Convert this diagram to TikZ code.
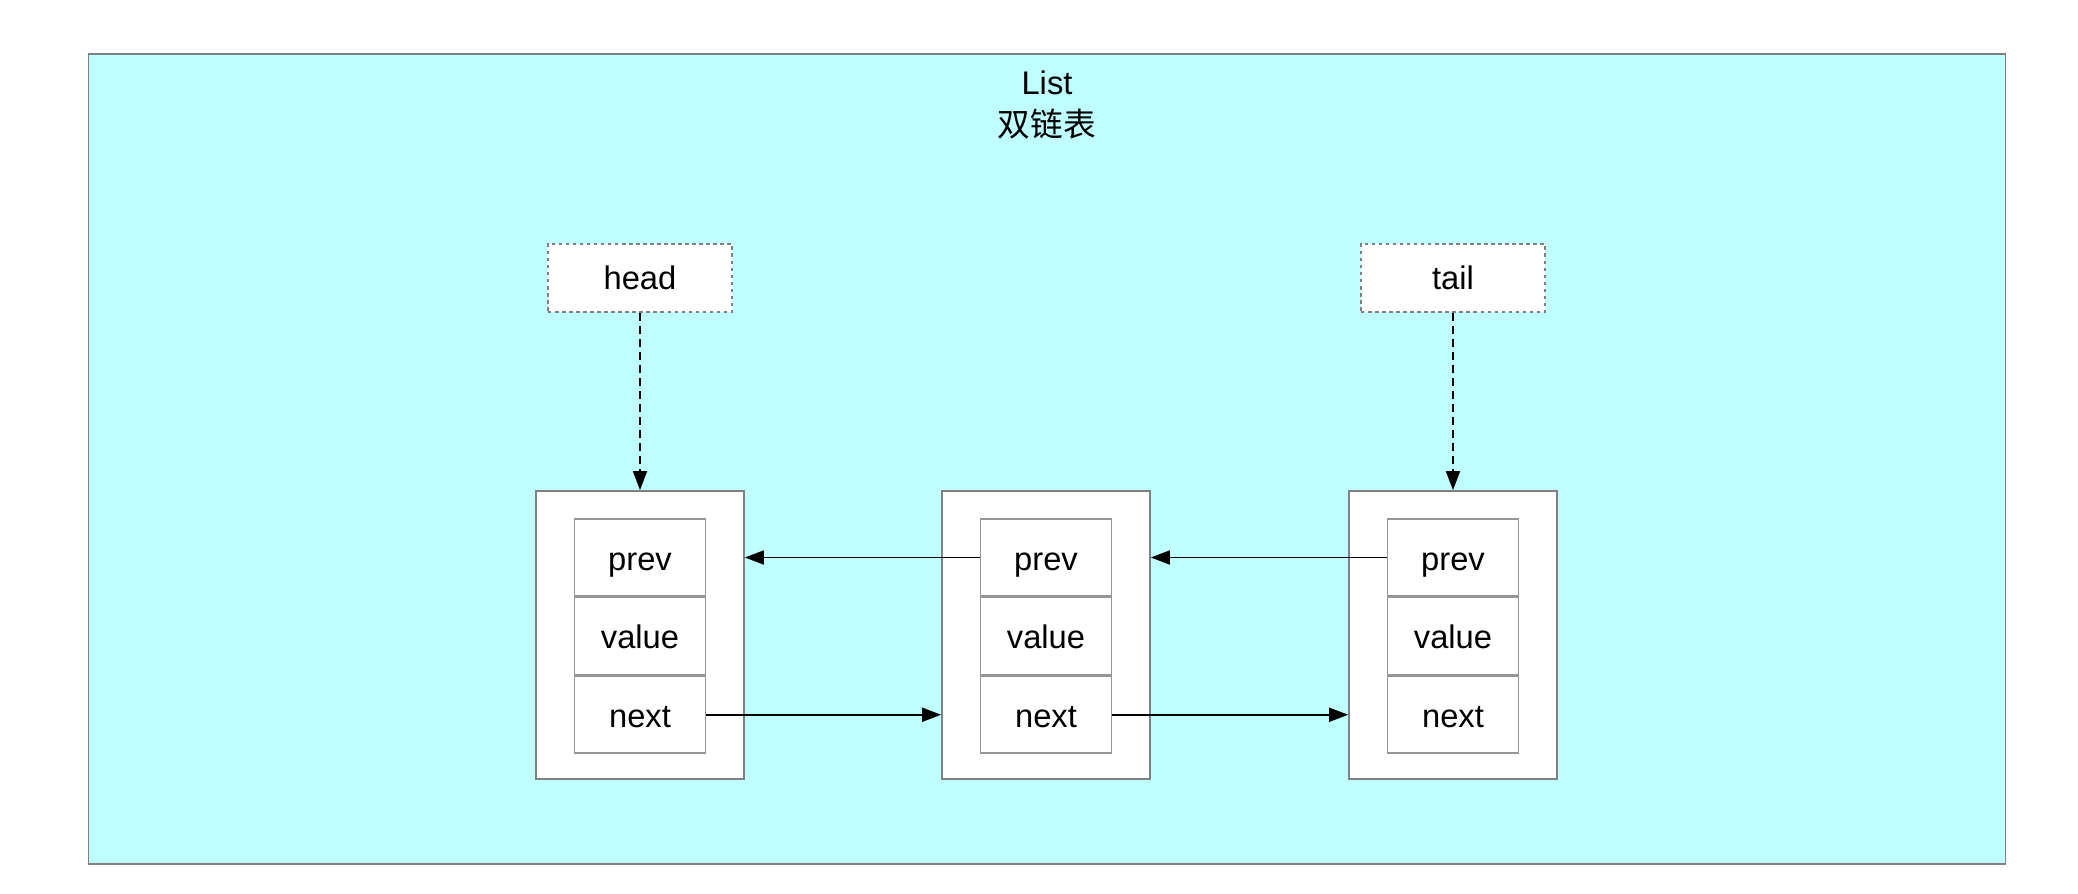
\documentclass[tikz,border=0pt]{standalone}
\usepackage{fontspec}
\setmainfont{Liberation Sans}
\newfontfamily\cjk{Noto Sans CJK SC}
\usetikzlibrary{positioning,arrows.meta}
\definecolor{listbg}{RGB}{191,255,255}
\definecolor{boxgray}{RGB}{128,128,128}
\definecolor{cellgray}{RGB}{150,150,150}
\tikzset{
  elem/.style={draw=boxgray,fill=white,line width=0.45pt,minimum width=2.08cm,minimum height=2.88cm},
  cell/.style={draw=cellgray,fill=white,line width=0.45pt,minimum width=1.31cm,minimum height=0.77cm,inner sep=0pt,text height=0.72em,text depth=0pt},
  ptr/.style={draw=boxgray,fill=white,line width=0.45pt,dash pattern=on 1pt off 1pt,minimum width=1.84cm,minimum height=0.68cm},
  link/.style={-{Triangle[length=0.19cm,width=0.14cm]},line width=0.5pt},
}
\begin{document}
\begin{tikzpicture}[x=0.01cm,y=-0.01cm,font=\fontsize{9.3}{11.7}\selectfont]
    \useasboundingbox (0,0) rectangle (2078,894);
    \node[draw=boxgray,fill=listbg,line width=0.5pt,minimum width=19.16cm,minimum height=8.10cm] (list) at (1047,459) {};
    \node[align=center] (title) at (1047,105) {List\\{\cjk 双链表}};
    \node[ptr] (head) at (640,278) {head};
    \node[ptr] (tail) at (1453,278) {tail};
    % the three list elements
    \foreach \i/\x in {1/640,2/1046,3/1453}{
        \node[elem] (e\i) at (\x,635) {};
        \node[cell] (prev\i) at (\x,557.5) {prev};
        \node[cell,below=0pt of prev\i] (value\i) {value};
        \node[cell,below=0pt of value\i] (next\i) {next};
    }
    \draw[link,dash pattern=on 0.08cm off 0.05cm] (head.south) -- (e1.north);
    \draw[link,dash pattern=on 0.08cm off 0.05cm] (tail.south) -- (e3.north);
    \draw[link] (prev2.west) -- (prev2.west -| e1.east);
    \draw[link] (prev3.west) -- (prev3.west -| e2.east);
    \draw[link] (next1.east) -- (next1.east -| e2.west);
    \draw[link] (next2.east) -- (next2.east -| e3.west);
\end{tikzpicture}
\end{document}
